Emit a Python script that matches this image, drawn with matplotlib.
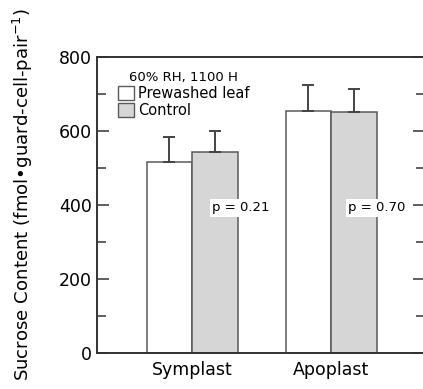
import matplotlib
matplotlib.use('Agg')
import matplotlib.pyplot as plt
from matplotlib.patches import Patch

# data
groups = ['Symplast', 'Apoplast']
prewashed = [516, 654]
prewashed_err = [68, 70]
control = [543, 651]
control_err = [57, 63]
p_values = ['p = 0.21', 'p = 0.70']
p_y = 392

plt.rcParams['font.family'] = 'DejaVu Sans'

fig = plt.figure(figsize=(4.23, 3.89), dpi=100)
ax = fig.add_axes([0.2293, 0.0925, 0.776, 0.761])

w = 0.327
x = [0, 1]
edge = '#5a5a5a'
ax.bar([i - w / 2 for i in x], prewashed, w, color='white', edgecolor=edge, linewidth=1.1, zorder=2)
ax.bar([i + w / 2 for i in x], control, w, color='#d6d6d6', edgecolor=edge, linewidth=1.1, zorder=2)
ax.errorbar([i - w / 2 for i in x], prewashed, yerr=[[0, 0], prewashed_err], fmt='none',
            ecolor='#444444', elinewidth=1.4, capsize=4.3, capthick=1.4, zorder=3)
ax.errorbar([i + w / 2 for i in x], control, yerr=[[0, 0], control_err], fmt='none',
            ecolor='#444444', elinewidth=1.4, capsize=4.3, capthick=1.4, zorder=3)

for xi, txt in zip([0.144, 1.122], p_values):
    ax.text(xi, p_y, txt, fontsize=9.5, va='center', ha='left', zorder=4,
            bbox=dict(facecolor='white', edgecolor='none', pad=1.5))

ax.set_xlim(-0.683, 1.676)
ax.set_ylim(0, 800)
ax.set_xticks(x)
ax.set_xticklabels(groups, fontsize=12.5)
ax.tick_params(axis='x', length=0, pad=6)
ax.set_yticks([0, 200, 400, 600, 800])
ax.set_yticks([100, 300, 500, 700], minor=True)
ax.tick_params(axis='y', which='major', direction='in', length=8.6, width=1.1,
               labelsize=12.5, right=True, color='#333333')
ax.tick_params(axis='y', which='minor', direction='in', length=6.5, width=1.1,
               right=True, color='#333333')
for s in ['left', 'bottom', 'top']:
    ax.spines[s].set_linewidth(1.4)
    ax.spines[s].set_color('#333333')
ax.spines['right'].set_visible(False)

ax.set_ylabel('Sucrose Content (fmol\u2022guard-cell-pair$^{-1}$)', fontsize=13.1)
ax.yaxis.set_label_coords(-0.19, 0.535)

handles = [Patch(facecolor='white', edgecolor=edge), Patch(facecolor='#d6d6d6', edgecolor=edge)]
leg = ax.legend(handles, ['Prewashed leaf', 'Control'], title='60% RH, 1100 H',
                loc='upper left', bbox_to_anchor=(0.055, 0.963), frameon=False,
                fontsize=10.5, title_fontsize=9.5, handlelength=1.1, handleheight=1.1,
                handletextpad=0.25, labelspacing=0.15, borderpad=0.2, borderaxespad=0)

fig.savefig('out.png', dpi=100)
